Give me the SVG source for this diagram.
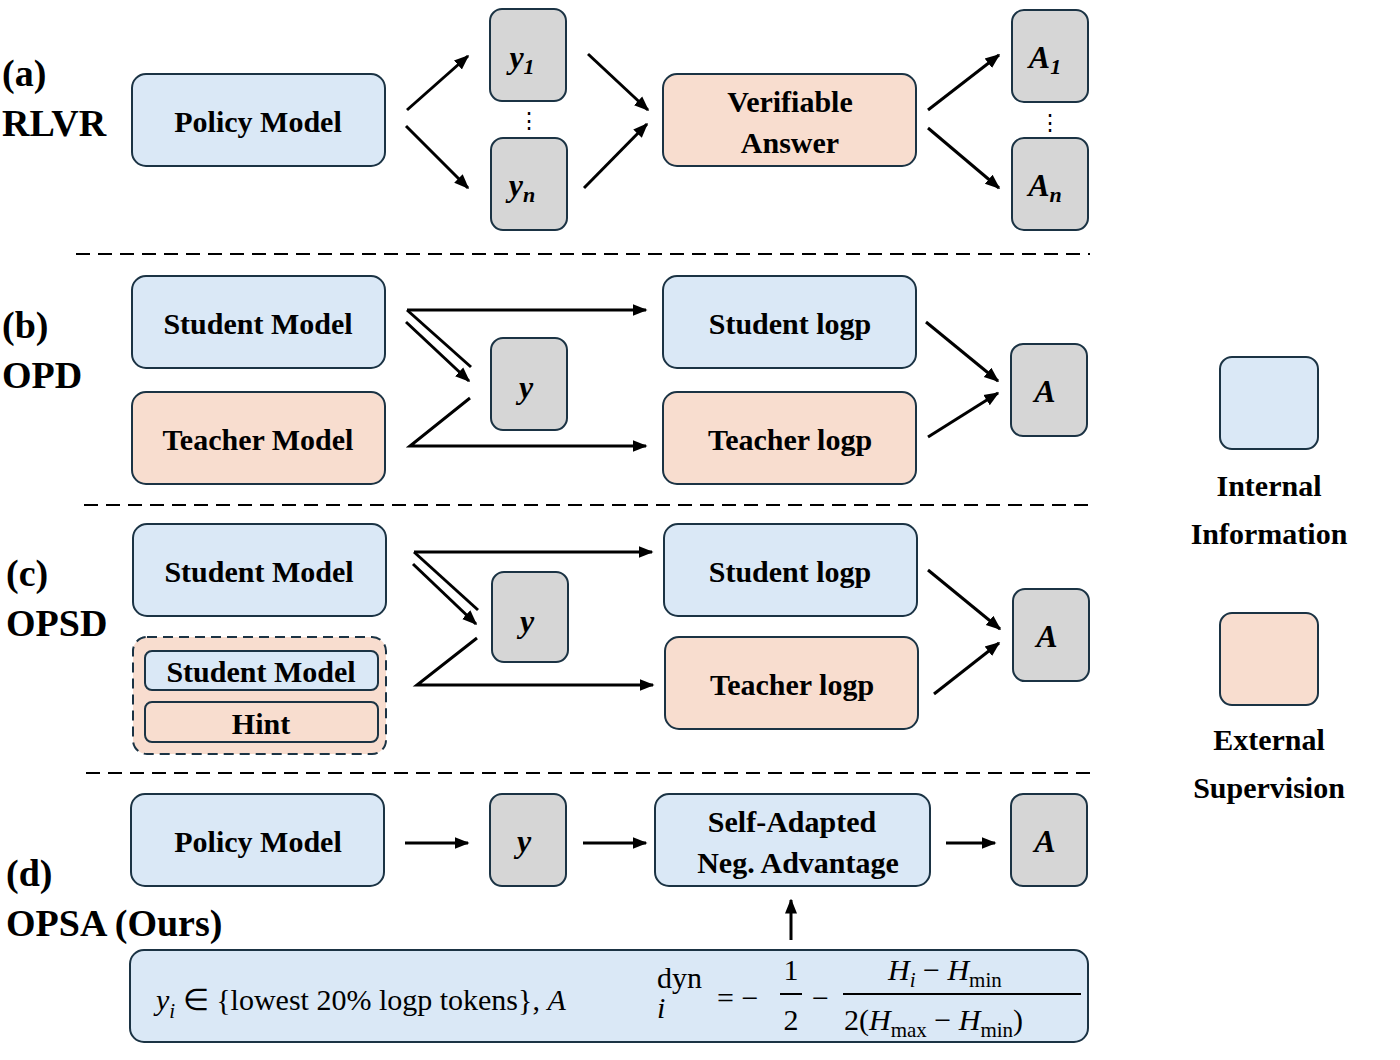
<svg xmlns="http://www.w3.org/2000/svg" width="1400" height="1060" viewBox="0 0 1400 1060">
<defs>
<marker id="ah" viewBox="0 0 10 10" refX="9" refY="5" markerWidth="5" markerHeight="5" orient="auto" markerUnits="strokeWidth"><path d="M0,1 L10,5 L0,9 z" fill="#000"/></marker>
<style>
.b{fill:#dae8f6;stroke:#1b3344;stroke-width:2}
.o{fill:#f8ddcf;stroke:#1b3344;stroke-width:2}
.g{fill:#d6d6d6;stroke:#1b3344;stroke-width:2}
.t{font-family:"Liberation Serif",serif;font-weight:bold;font-size:30px;fill:#000;text-anchor:middle}
.v{font-family:"Liberation Serif",serif;font-weight:bold;font-style:italic;font-size:32px;text-anchor:middle}
.lab{font-family:"Liberation Serif",serif;font-weight:bold;font-size:38px;fill:#000}
.c line,.c polyline{stroke:#000;stroke-width:3;fill:none}
.a{marker-end:url(#ah)}
.d{stroke:#000;stroke-width:2;stroke-dasharray:14 8}
.m{font-family:"Cambria Math","Liberation Serif",serif;font-size:30px;fill:#000}
</style>
</defs>
<rect width="1400" height="1060" fill="#fff"/>
<text class="lab" x="2" y="86">(a)</text><text class="lab" x="2" y="136">RLVR</text>
<text class="lab" x="2" y="338">(b)</text><text class="lab" x="2" y="388">OPD</text>
<text class="lab" x="6" y="586">(c)</text><text class="lab" x="6" y="636">OPSD</text>
<text class="lab" x="6" y="886">(d)</text><text class="lab" x="6" y="936">OPSA (Ours)</text>
<line class="d" x1="76" y1="254" x2="1090" y2="254"/>
<line class="d" x1="84" y1="505" x2="1096" y2="505"/>
<line class="d" x1="86" y1="773" x2="1098" y2="773"/>
<g id="a-policy"><rect class="b" x="132" y="74" width="253" height="92" rx="14"/><text class="t" x="258" y="132">Policy Model</text></g>
<g id="a-y1"><rect class="g" x="490" y="9" width="76" height="92" rx="12"/><text class="v" x="522" y="68">y<tspan font-size="22" dy="6">1</tspan></text></g>
<text x="529" y="128" font-family="Liberation Serif,serif" font-size="22" text-anchor="middle">⋮</text>
<g id="a-yn"><rect class="g" x="491" y="138" width="76" height="92" rx="12"/><text class="v" x="522" y="196">y<tspan font-size="22" dy="6">n</tspan></text></g>
<g id="a-verif"><rect class="o" x="663" y="74" width="253" height="92" rx="14"/><text class="t" x="790" y="112">Verifiable</text><text class="t" x="790" y="153">Answer</text></g>
<g id="a-A1"><rect class="g" x="1012" y="10" width="76" height="92" rx="12"/><text class="v" x="1045" y="68">A<tspan font-size="22" dy="6">1</tspan></text></g>
<text x="1050" y="130" font-family="Liberation Serif,serif" font-size="22" text-anchor="middle">⋮</text>
<g id="a-An"><rect class="g" x="1012" y="138" width="76" height="92" rx="12"/><text class="v" x="1045" y="196">A<tspan font-size="22" dy="6">n</tspan></text></g>
<g id="b-student"><rect class="b" x="132" y="276" width="253" height="92" rx="14"/><text class="t" x="258" y="334">Student Model</text></g>
<g id="b-teacher"><rect class="o" x="132" y="392" width="253" height="92" rx="14"/><text class="t" x="258" y="450">Teacher Model</text></g>
<g id="b-y"><rect class="g" x="491" y="338" width="76" height="92" rx="12"/><text class="v" x="526" y="398">y</text></g>
<g id="b-slogp"><rect class="b" x="663" y="276" width="253" height="92" rx="14"/><text class="t" x="790" y="334">Student logp</text></g>
<g id="b-tlogp"><rect class="o" x="663" y="392" width="253" height="92" rx="14"/><text class="t" x="790" y="450">Teacher logp</text></g>
<g id="b-A"><rect class="g" x="1011" y="344" width="76" height="92" rx="12"/><text class="v" x="1045" y="402">A</text></g>
<g id="c-student"><rect class="b" x="133" y="524" width="253" height="92" rx="14"/><text class="t" x="259" y="582">Student Model</text></g>
<g id="c-hintgroup"><rect x="133" y="637" width="253" height="117" rx="14" fill="#f8ddcf" stroke="#1b3344" stroke-width="2" stroke-dasharray="10 6"/>
<rect class="b" x="145" y="651" width="233" height="39" rx="7"/><text class="t" x="261" y="682" font-size="28">Student Model</text>
<rect class="o" x="145" y="702" width="233" height="40" rx="7"/><text class="t" x="261" y="734" font-size="28">Hint</text></g>
<g id="c-y"><rect class="g" x="492" y="572" width="76" height="90" rx="12"/><text class="v" x="527" y="632">y</text></g>
<g id="c-slogp"><rect class="b" x="664" y="524" width="253" height="92" rx="14"/><text class="t" x="790" y="582">Student logp</text></g>
<g id="c-tlogp"><rect class="o" x="665" y="637" width="253" height="92" rx="14"/><text class="t" x="792" y="695">Teacher logp</text></g>
<g id="c-A"><rect class="g" x="1013" y="589" width="76" height="92" rx="12"/><text class="v" x="1047" y="647">A</text></g>
<g id="d-policy"><rect class="b" x="131" y="794" width="253" height="92" rx="14"/><text class="t" x="258" y="852">Policy Model</text></g>
<g id="d-y"><rect class="g" x="490" y="794" width="76" height="92" rx="12"/><text class="v" x="524" y="852">y</text></g>
<g id="d-sana"><rect class="b" x="655" y="794" width="275" height="92" rx="14"/><text class="t" x="792" y="832">Self-Adapted</text><text class="t" x="798" y="873">Neg. Advantage</text></g>
<g id="d-A"><rect class="g" x="1011" y="794" width="76" height="92" rx="12"/><text class="v" x="1045" y="852">A</text></g>
<g id="d-formula"><rect class="b" x="130" y="950" width="958" height="92" rx="14"/>
<text class="m" x="156" y="1010"><tspan font-style="italic">y</tspan><tspan font-style="italic" font-size="21" dy="8">i</tspan><tspan dy="-8"> ∈ {lowest 20% logp tokens},  </tspan><tspan font-style="italic">A</tspan></text>
<text class="m" x="657" y="1018" font-style="italic" font-size="21">i</text>
<text class="m" x="657" y="988" font-size="22">dyn</text>
<text class="m" x="717" y="1008">= −</text>
<text class="m" x="791" y="980" text-anchor="middle">1</text>
<line x1="780" y1="994" x2="802" y2="994" stroke="#000" stroke-width="2"/>
<text class="m" x="791" y="1030" text-anchor="middle">2</text>
<text class="m" x="812" y="1008">−</text>
<text class="m" x="888" y="980"><tspan font-style="italic">H</tspan><tspan font-style="italic" font-size="21" dy="7">i</tspan><tspan dy="-7"> − </tspan><tspan font-style="italic">H</tspan><tspan font-size="21" dy="7">min</tspan></text>
<line x1="843" y1="994" x2="1081" y2="994" stroke="#000" stroke-width="2"/>
<text class="m" x="844" y="1030">2(<tspan font-style="italic">H</tspan><tspan font-size="21" dy="7">max</tspan><tspan dy="-7"> − </tspan><tspan font-style="italic">H</tspan><tspan font-size="21" dy="7">min</tspan><tspan dy="-7">)</tspan></text>
</g>
<g id="legend-internal"><rect class="b" x="1220" y="357" width="98" height="92" rx="12"/><text class="t" x="1269" y="496" font-size="36">Internal</text><text class="t" x="1269" y="544" font-size="36">Information</text></g>
<g id="legend-external"><rect class="o" x="1220" y="613" width="98" height="92" rx="12"/><text class="t" x="1269" y="750" font-size="36">External</text><text class="t" x="1269" y="798" font-size="36">Supervision</text></g>
<g id="connectors" class="c">
<line class="a" x1="407" y1="110" x2="468" y2="56"/>
<line class="a" x1="406" y1="126" x2="468" y2="188"/>
<line class="a" x1="588" y1="54" x2="648" y2="110"/>
<line class="a" x1="584" y1="188" x2="647" y2="124"/>
<line class="a" x1="928" y1="110" x2="999" y2="55"/>
<line class="a" x1="928" y1="128" x2="999" y2="188"/>
<line class="a" x1="407" y1="310" x2="646" y2="310"/>
<line x1="407" y1="310" x2="471" y2="367"/>
<line class="a" x1="406" y1="322" x2="469" y2="381"/>
<polyline class="a" points="470,398 410,446 646,446"/>
<line class="a" x1="926" y1="322" x2="998" y2="381"/>
<line class="a" x1="928" y1="437" x2="998" y2="393"/>
<line class="a" x1="414" y1="552" x2="652" y2="552"/>
<line x1="414" y1="552" x2="478" y2="610"/>
<line class="a" x1="413" y1="564" x2="476" y2="624"/>
<polyline class="a" points="477,638 417,685 653,685"/>
<line class="a" x1="928" y1="570" x2="1000" y2="629"/>
<line class="a" x1="934" y1="694" x2="999" y2="643"/>
<line class="a" x1="405" y1="843" x2="468" y2="843"/>
<line class="a" x1="583" y1="843" x2="646" y2="843"/>
<line class="a" x1="946" y1="843" x2="995" y2="843"/>
<line class="a" x1="791" y1="940" x2="791" y2="900"/>
</g>
</svg>
